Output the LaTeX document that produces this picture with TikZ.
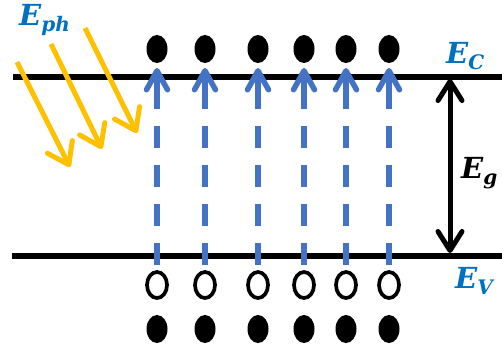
\documentclass[tikz,border=0pt]{standalone}
\usepackage{fontspec}
\newfontfamily\levelfont{DejaVu Serif}
\usetikzlibrary{arrows.meta,shapes.geometric}
\definecolor{excite}{HTML}{4472C4}
\definecolor{photon}{HTML}{FFC000}
\definecolor{levelblue}{HTML}{0070C0}
% energy symbol: bold italic E with a lowered subscript
\newcommand\energysym[1]{E\raisebox{-0.22em}{\fontsize{20}{20}\selectfont #1}}
\tikzset{
  band/.style={line width=6.5pt, black},
  electron/.style={ellipse, fill=black, inner sep=0pt, minimum width=21pt, minimum height=28pt},
  hole/.style={ellipse, draw=black, line width=3.7pt, inner sep=0pt, minimum width=20pt, minimum height=26pt},
  jump/.style={excite, line width=5.5pt,
    dash pattern=on 22pt off 17pt on 22pt off 17pt on 22pt off 17pt on 22pt off 17pt on 200pt off 1pt,
    -{Straight Barb[length=19pt,width=21pt,round]}},
  light/.style={photon, line width=5pt, -{Straight Barb[length=20pt,width=28pt,round]}},
  gap/.style={black, line width=5pt, {Straight Barb[length=19pt,width=24pt,round]}-{Straight Barb[length=19pt,width=24pt,round]}},
  level/.style={inner sep=0pt, anchor=base west, font=\levelfont\fontsize{29}{29}\selectfont\bfseries\itshape}
}
\begin{document}
\begin{tikzpicture}[x=1pt,y=-1pt]
\path[use as bounding box] (0,0) rectangle (502,349);

% band edges
\coordinate (cL) at (13,77);  \coordinate (cR) at (502,77);
\coordinate (vL) at (12,256); \coordinate (vR) at (502,256);
\draw[band] (cL) -- (cR);
\draw[band] (vL) -- (vR);

% electrons, holes and valence electrons in six columns
\foreach \i/\x in {1/157,2/205,3/258,4/304,5/346,6/389} {
  \node[electron] (e\i) at (\x,49) {};
  \node[hole]     (h\i) at (\x,285) {};
  \node[electron] (f\i) at (\x,329) {};
  \coordinate (b\i) at (\x,265);
  \coordinate (t\i) at (\x,68);
  \draw[jump] (b\i) -- (t\i);
}

% incoming photons
\coordinate (p1s) at (17,62);  \coordinate (p1e) at (70,167);
\coordinate (p2s) at (51,44);  \coordinate (p2e) at (102,149);
\coordinate (p3s) at (85,28);  \coordinate (p3e) at (137,133);
\draw[light] (p1s) -- (p1e);
\draw[light] (p2s) -- (p2e);
\draw[light] (p3s) -- (p3e);

% band gap
\coordinate (gT) at (450,79);
\coordinate (gB) at (450,253);
\draw[gap] (gT) -- (gB);

% labels
\node[level, text=levelblue] (Eph) at (19,25) {\energysym{ph}};
\node[level, text=levelblue] (Ec) at (446,63) {\energysym{C}};
\node[level, text=levelblue] (Ev) at (455,288) {\energysym{V}};
\node[level] (Eg) at (461,178) {\energysym{g}};
\end{tikzpicture}
\end{document}
